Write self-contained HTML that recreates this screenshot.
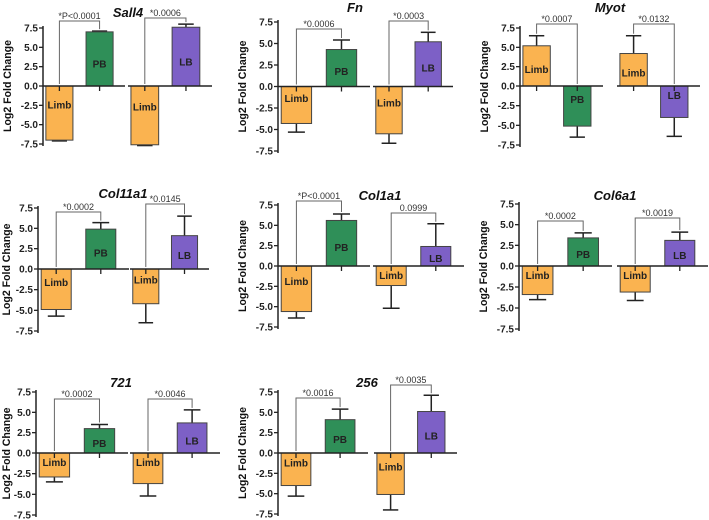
<!DOCTYPE html>
<html><head><meta charset="utf-8"><style>
body{margin:0;background:#fff;}
svg{display:block;font-family:"Liberation Sans",Arial,sans-serif;}
</style></head><body>
<svg id="fig" width="709" height="520" viewBox="0 0 709 520"></svg>
<script>
const genes = ["Sall4","Fn","Myot","Col11a1","Col1a1","Col6a1","721","256"];
const limbPB = [-7.0,-4.3,5.2,-4.9,-5.6,-3.4,-2.9,-4.0];
const limbPBErr = [-7.1,-5.3,6.5,-5.7,-6.4,-4.0,-3.5,-5.3];
const pbVals = [7.0,4.3,-5.1,4.9,5.6,3.4,3.0,4.1];
const pbErr = [7.1,5.4,-6.5,5.7,6.4,4.0,3.5,5.4];
const limbLB = [-7.6,-5.5,4.2,-4.2,-2.4,-3.1,-3.7,-5.1];
const limbLBErr = [-7.7,-6.6,6.5,-6.5,-5.2,-4.1,-5.2,-7.0];
const lbVals = [7.6,5.2,-4.0,4.1,2.4,3.1,3.7,5.1];
const lbErr = [8.0,6.3,-6.4,6.5,5.2,4.1,5.3,7.1];
const pLabels1 = ["*P<0.0001","*0.0006","*0.0007","*0.0002","*P<0.0001","*0.0002","*0.0002","*0.0016"];
const pLabels2 = ["*0.0006","*0.0003","*0.0132","*0.0145","0.0999","*0.0019","*0.0046","*0.0035"];
const yTicks = [7.5,5.0,2.5,0.0,-2.5,-5.0,-7.5];
const tickText = ["7.5","5.0","2.5","0.0","-2.5","-5.0","-7.5"];
// layout (pixel geometry) per panel
const L = [
 {ax:43,yT:28,y0:86,yB:144,l1e:125,l2s:128,l2e:212,tx:128,ty:17,b1:21,b2:18},
 {ax:278,yT:22,y0:86.5,yB:151,l1e:370,l2s:373,l2e:453,tx:355,ty:12,b1:29,b2:21},
 {ax:520,yT:28,y0:86,yB:145,l1e:603,l2s:617,l2e:700,tx:610,ty:12,b1:24,b2:24},
 {ax:38,yT:208,y0:269,yB:331,l1e:129,l2s:130,l2e:209,tx:123,ty:198,b1:212,b2:204},
 {ax:278,yT:205,y0:266,yB:327,l1e:370,l2s:373,l2e:464,tx:380,ty:200,b1:201,b2:213},
 {ax:519,yT:204,y0:266,yB:329,l1e:612,l2s:617,l2e:708,tx:615,ty:200,b1:221,b2:218},
 {ax:36,yT:392,y0:453,yB:515,l1e:128,l2s:130,l2e:220,tx:121,ty:387,b1:399,b2:399},
 {ax:278,yT:392,y0:453,yB:514,l1e:368,l2s:374,l2e:457,tx:367,ty:387,b1:398,b2:385}
];
const NS="http://www.w3.org/2000/svg";
const svg=document.getElementById('fig');
function mk(tag,attrs,parent){const e=document.createElementNS(NS,tag);for(const k in attrs)e.setAttribute(k,attrs[k]);(parent||svg).appendChild(e);return e;}
const cols={Limb:"#fab350",PB:"#2f8f58",LB:"#7d60c6"};
genes.forEach((g,i)=>{
  const p=L[i];
  const Y=v=>v>=0 ? p.y0-(v/7.5)*(p.y0-p.yT) : p.y0+(-v/7.5)*(p.yB-p.y0);
  const grp=mk('g',{});
  
  
  const t=mk('text',{x:p.tx,y:p.ty,'text-anchor':'middle','font-size':13,'font-weight':'bold','font-style':'italic',fill:'#111'},grp);
  t.textContent=g;
  
  
  const ya=mk('line',{x1:p.ax,x2:p.ax,y1:p.yT-2,y2:p.yB+2,stroke:'#222','stroke-width':1.5},grp);
  
  
  yTicks.forEach((v,k)=>{
    mk('line',{x1:p.ax-4,x2:p.ax,y1:Y(v),y2:Y(v),stroke:'#222','stroke-width':1.3},grp);
    const tt=mk('text',{x:p.ax-5,y:Y(v)+3.5,'text-anchor':'end','font-size':10,'font-weight':'bold',fill:'#222'},grp);
    tt.textContent=tickText[k];
    
    
  });
  const ylx=Math.max(p.ax-32,10);
  const yl=mk('text',{x:0,y:0,'text-anchor':'middle','font-size':11,'font-weight':'bold',fill:'#111',textLength:92,lengthAdjust:'spacingAndGlyphs',transform:`translate(${ylx},${(p.yT+p.yB)/2}) rotate(-90)`,'xml:space':'preserve'},grp);
  yl.textContent="Log2 Fold  Change";
  
  
  const groups=[
    {s:p.ax,e:p.l1e,a:limbPB[i],ae:limbPBErr[i],b:pbVals[i],be:pbErr[i],n:'PB',lab:pLabels1[i],by:p.b1},
    {s:p.l2s,e:p.l2e,a:limbLB[i],ae:limbLBErr[i],b:lbVals[i],be:lbErr[i],n:'LB',lab:pLabels2[i],by:p.b2}
  ];
  groups.forEach((G,gi)=>{
    const len=G.e-G.s, w=len*0.33;
    const c1=G.s+len*0.2, c2=G.s+len*0.69;
    [[c1,G.a,G.ae,'Limb'],[c2,G.b,G.be,G.n]].forEach(([c,v,ev,name])=>{
      const y1=Math.min(Y(v),p.y0),h=Math.abs(Y(v)-p.y0);
      mk('line',{x1:c,x2:c,y1:Y(v),y2:Y(ev),stroke:'#222','stroke-width':1.5},grp);
      mk('line',{x1:c-w*0.28,x2:c+w*0.28,y1:Y(ev),y2:Y(ev),stroke:'#222','stroke-width':1.5},grp);
      const r=mk('rect',{x:c-w/2,y:y1,width:w,height:h,fill:cols[name],stroke:'#444','stroke-width':1},grp);
      
      
      mk('line',{x1:c,x2:c,y1:p.y0,y2:p.y0+5,stroke:'#222','stroke-width':1.3},grp);
      const ly=v<0?p.y0+Math.max(13,h*0.42):p.y0-Math.max(8,h*0.42)+4;
      const bl=mk('text',{x:c,y:ly,'text-anchor':'middle','font-size':10,'font-weight':'bold',fill:'#222'},grp);
      bl.textContent=name;
      
      
    });
    const za=mk('line',{x1:G.s,x2:G.e,y1:p.y0,y2:p.y0,stroke:'#222','stroke-width':1.5},grp);
    
    
    const top2=Math.min(Y(G.b),Y(G.be),p.y0)-2, top1=Math.min(Y(G.a),Y(G.ae),p.y0)-2;
    mk('polyline',{points:`${c1},${top1} ${c1},${G.by} ${c2},${G.by} ${c2},${top2}`,fill:'none',stroke:'#666','stroke-width':1},grp);
    const pl=mk('text',{x:(c1+c2)/2,y:G.by-2,'text-anchor':'middle','font-size':9,fill:'#333'},grp);
    pl.textContent=G.lab;
    
    
  });
});
</script>
</body></html>
